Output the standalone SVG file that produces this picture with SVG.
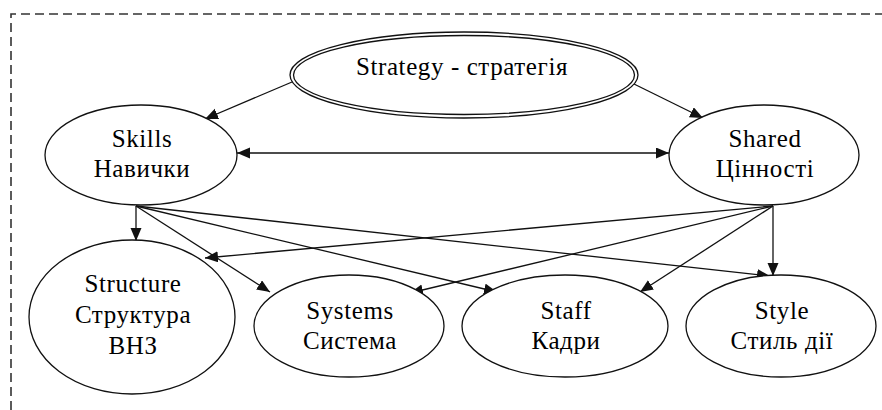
<svg xmlns="http://www.w3.org/2000/svg" width="882" height="410" viewBox="0 0 882 410">
<style>
.n{fill:#fff;stroke:#111;stroke-width:1.3}
.t{font-family:"Liberation Serif","Times New Roman",serif;font-size:25px;letter-spacing:0.6px;fill:#000;text-anchor:middle}
.e{fill:none;stroke:#111;stroke-width:1.3}
.b{fill:none;stroke:#333;stroke-width:1.6;stroke-dasharray:9 5}
</style>
<defs>
<marker id="ah" markerUnits="userSpaceOnUse" markerWidth="14" markerHeight="12" refX="13" refY="5.5" orient="auto-start-reverse" viewBox="0 0 14 12">
<path d="M0,0 L13,5.5 L0,11 z" fill="#111"/>
</marker>
</defs>
<g id="border">
<path class="b" d="M11,410 L11,14 L882,14"/>
</g>
<g id="connectors">
<line class="e" x1="292" y1="82" x2="205" y2="119" marker-end="url(#ah)"/>
<line class="e" x1="634" y1="84" x2="703" y2="118" marker-end="url(#ah)"/>
<line class="e" x1="237" y1="153" x2="669" y2="153" marker-start="url(#ah)" marker-end="url(#ah)"/>
<line class="e" x1="136" y1="206" x2="136" y2="241" marker-end="url(#ah)"/>
<line class="e" x1="136" y1="206" x2="270" y2="292" marker-end="url(#ah)"/>
<line class="e" x1="136" y1="206" x2="497" y2="292" marker-end="url(#ah)"/>
<line class="e" x1="136" y1="206" x2="770" y2="276" marker-end="url(#ah)"/>
<line class="e" x1="773" y1="206" x2="773" y2="276" marker-end="url(#ah)"/>
<line class="e" x1="773" y1="206" x2="640" y2="292" marker-end="url(#ah)"/>
<line class="e" x1="773" y1="206" x2="410" y2="293" marker-end="url(#ah)"/>
<line class="e" x1="773" y1="206" x2="205" y2="258" marker-end="url(#ah)"/>
</g>
<g id="strategy">
<ellipse class="n" cx="464" cy="75" rx="174" ry="43"/>
<ellipse class="n" cx="464" cy="75" rx="170.5" ry="39.5"/>
<text class="t" x="462" y="75">Strategy - стратегія</text>
</g>
<g id="skills">
<ellipse class="n" cx="141" cy="155" rx="96" ry="50"/>
<text class="t" x="142" y="147">Skills</text>
<text class="t" x="142" y="177">Навички</text>
</g>
<g id="shared">
<ellipse class="n" cx="764" cy="155" rx="95" ry="50"/>
<text class="t" x="765" y="147">Shared</text>
<text class="t" x="765" y="177">Цінності</text>
</g>
<g id="structure">
<ellipse class="n" cx="132" cy="317" rx="103" ry="77"/>
<text class="t" x="133" y="292">Structure</text>
<text class="t" x="133" y="323">Структура</text>
<text class="t" x="133" y="354">ВНЗ</text>
</g>
<g id="systems">
<ellipse class="n" cx="349" cy="326" rx="95" ry="51"/>
<text class="t" x="350" y="319">Systems</text>
<text class="t" x="350" y="349">Система</text>
</g>
<g id="staff">
<ellipse class="n" cx="565" cy="326" rx="103" ry="51"/>
<text class="t" x="566" y="319">Staff</text>
<text class="t" x="566" y="349">Кадри</text>
</g>
<g id="style">
<ellipse class="n" cx="781" cy="326" rx="95" ry="51"/>
<text class="t" x="782" y="319">Style</text>
<text class="t" x="782" y="349">Стиль дії</text>
</g>
</svg>
